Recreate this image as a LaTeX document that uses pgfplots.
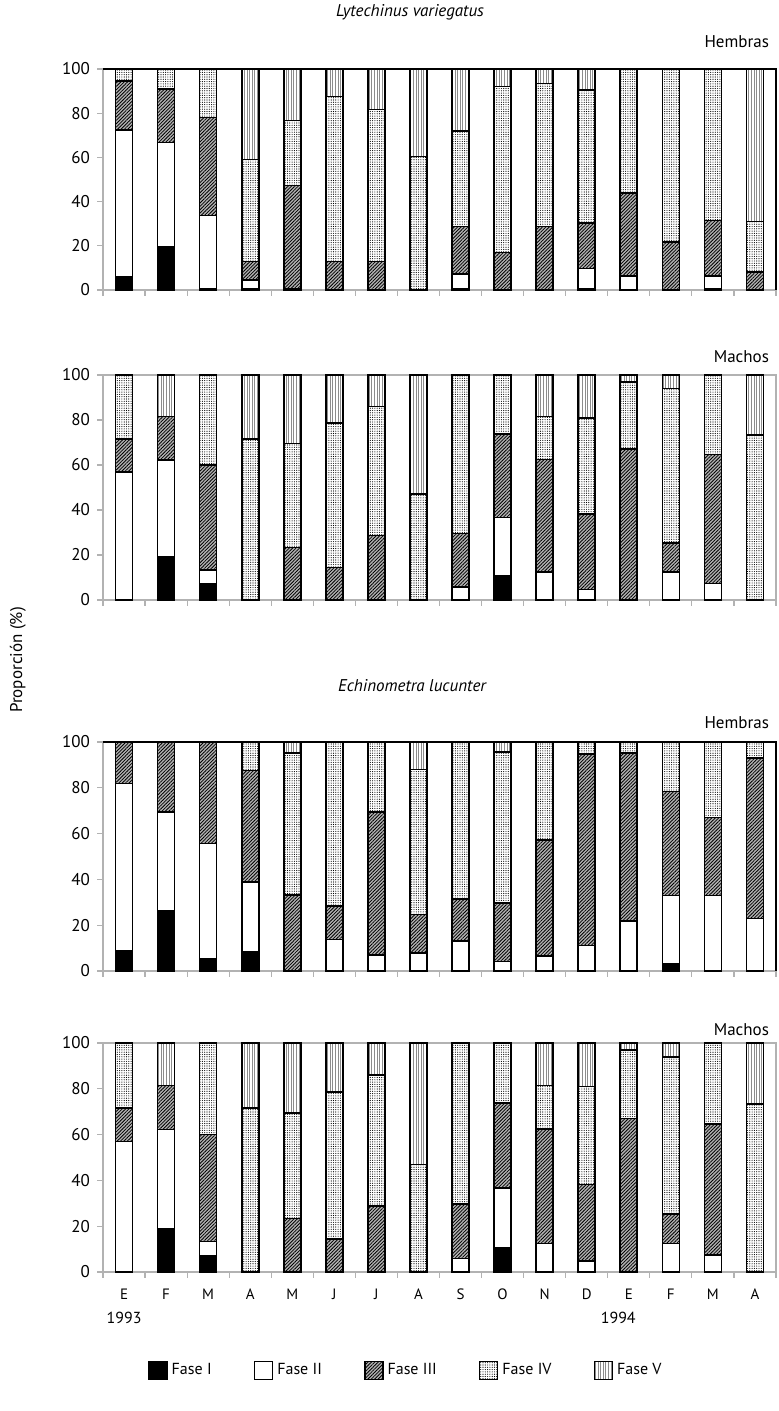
\documentclass[border=0pt]{standalone}
\usepackage{fontspec}
\setmainfont{PT Sans}
\usepackage{pgfplots}
\pgfplotsset{compat=1.18}
\usepackage{pgfplotstable}
\usetikzlibrary{patterns,patterns.meta}

% Lytechinus variegatus - Hembras
\pgfplotstableread{
x I II III IV V
1 6 66.5 22 5.5 0
2 19.6 47.2 24.2 9 0
3 0.5 33.2 44.3 22 0
4 0.5 4 8.3 46.2 41
5 0.5 0 46.8 29.4 23.3
6 0.3 0 12.5 74.8 12.4
7 0.3 0 12.5 68.8 18.4
8 0 0 0 60.4 39.6
9 0.5 6.8 21.4 43.2 28.1
10 0.3 0 16.7 75 8
11 0.3 0 28.4 64.8 6.5
12 0.5 9.3 20.4 60.3 9.5
13 0 6.3 37.7 56 0
14 0.3 0 21.3 78.4 0
15 0.5 5.8 25.2 68.5 0
16 0.3 0 7.7 23 69
}\tabLH

% Lytechinus variegatus - Machos
\pgfplotstableread{
x I II III IV V
1 0 57 14.6 28.4 0
2 19 43.2 19.3 0 18.5
3 7.1 6.2 46.7 40 0
4 0 0 0 71.6 28.4
5 0 0 23.3 46.2 30.5
6 0 0 14.5 64.2 21.3
7 0 0 28.7 57.3 14
8 0 0 0 47 53
9 0 5.9 23.7 70.4 0
10 10.7 25.9 37.2 26.2 0
11 0 12.4 50.1 19 18.5
12 0 4.7 33.5 42.8 19
13 0 0 67 30 3
14 0 12.4 12.8 68.8 6
15 0 7.4 57.2 35.4 0
16 0 0 0 73.3 26.7
}\tabLM

% Echinometra lucunter - Hembras
\pgfplotstableread{
x I II III IV V
1 8.9 72.9 18.2 0 0
2 26.2 43.3 30.5 0 0
3 5.4 50.3 44.3 0 0
4 8.5 30.4 48.7 12.4 0
5 0 0 33.1 62.1 4.8
6 0 13.7 14.7 71.6 0
7 0 7 62.5 30.5 0
8 0 7.9 16.7 63.4 12
9 0 13 18.5 68.5 0
10 0 4.1 25.5 66 4.4
11 0 6.6 50.5 42.9 0
12 0 11.1 83.7 5.2 0
13 0 21.9 73.3 4.8 0
14 3.1 29.8 45.4 21.7 0
15 0 32.9 34.1 33 0
16 0 22.9 70.1 7 0
}\tabEH

% Echinometra lucunter - Machos
\pgfplotstableread{
x I II III IV V
1 0 57 14.6 28.4 0
2 19 43.2 19.3 0 18.5
3 7.1 6.2 46.7 40 0
4 0 0 0 71.6 28.4
5 0 0 23.3 46.2 30.5
6 0 0 14.5 64.2 21.3
7 0 0 28.7 57.3 14
8 0 0 0 47 53
9 0 5.9 23.7 70.4 0
10 10.7 25.9 37.2 26.2 0
11 0 12.4 50.1 19 18.5
12 0 4.7 33.5 42.8 19
13 0 0 67 30 3
14 0 12.4 12.8 68.8 6
15 0 7.4 57.2 35.4 0
16 0 0 0 73.3 26.7
}\tabEM

\pgfplotsset{
  fI/.style={fill=black, draw=black, line width=0.8pt},
  fII/.style={fill=white, draw=black, line width=0.8pt},
  fIII/.style={fill=gray!60, draw=black, line width=0.8pt,
     postaction={pattern color=black, pattern={Lines[angle=45,distance=1.2pt,line width=0.4pt]}}},
  fIV/.style={fill=white, draw=black, line width=0.8pt,
     postaction={pattern color=black, pattern={Dots[radius=0.28pt,distance=1.15pt]}}},
  fV/.style={fill=white, draw=black, line width=0.8pt,
     postaction={pattern color=gray!90, pattern={Lines[angle=90,distance=1.3pt,line width=0.35pt]}}},
  panel/.style={
    scale only axis, width=336.5pt, height=#1,
    xmin=0.5, xmax=16.5, ymin=0, ymax=100,
    ybar stacked, bar width=8.5pt,
    ytick={0,20,40,60,80,100},
    xtick={0.5,1.5,...,16.5}, xticklabels={},
    tick align=outside, xtick pos=left, ytick pos=left,
    major tick length=3pt,
    axis line style={gray!60, line width=0.8pt},
    tick style={gray!60, line width=0.6pt},
    ticklabel style={font=\fontsize{8.5}{10}\selectfont},
    /pgf/number format/assume math mode=true,
    clip=false,
  },
}

\begin{document}
\begin{tikzpicture}
\path[use as bounding box] (0,0) rectangle (389.5pt,705.5pt);

\node[font=\fontsize{8.5}{10}\selectfont\itshape] at (205pt,699.5pt) {Lytechinus variegatus};
\node[font=\fontsize{8.5}{10}\selectfont\itshape] at (206pt,362.5pt) {Echinometra lucunter};
\node[font=\fontsize{8.5}{10}\selectfont, rotate=90] at (9pt,375.5pt) {Proporción (\%)};

% Panel 1
\begin{axis}[panel=110.5pt, at={(51.5pt,560.5pt)}, anchor=south west]
\addplot[fI] table[x=x,y=I]{\tabLH};
\addplot[fII] table[x=x,y=II]{\tabLH};
\addplot[fIII] table[x=x,y=III]{\tabLH};
\addplot[fIV] table[x=x,y=IV]{\tabLH};
\addplot[fV] table[x=x,y=V]{\tabLH};
\draw[black,line width=1pt] (rel axis cs:0,1)--(rel axis cs:1,1)--(rel axis cs:1,0);
\node[anchor=base east, font=\fontsize{8.5}{10}\selectfont] at (rel axis cs:1,1) [yshift=10.5pt] {Hembras};
\end{axis}

% Panel 2
\begin{axis}[panel=112.5pt, at={(51.5pt,405.5pt)}, anchor=south west]
\addplot[fI] table[x=x,y=I]{\tabLM};
\addplot[fII] table[x=x,y=II]{\tabLM};
\addplot[fIII] table[x=x,y=III]{\tabLM};
\addplot[fIV] table[x=x,y=IV]{\tabLM};
\addplot[fV] table[x=x,y=V]{\tabLM};
\node[anchor=base east, font=\fontsize{8.5}{10}\selectfont] at (rel axis cs:1,1) [yshift=6pt] {Machos};
\end{axis}

% Panel 3
\begin{axis}[panel=114.5pt, at={(51.5pt,220pt)}, anchor=south west]
\addplot[fI] table[x=x,y=I]{\tabEH};
\addplot[fII] table[x=x,y=II]{\tabEH};
\addplot[fIII] table[x=x,y=III]{\tabEH};
\addplot[fIV] table[x=x,y=IV]{\tabEH};
\addplot[fV] table[x=x,y=V]{\tabEH};
\draw[black,line width=1pt] (rel axis cs:0,1)--(rel axis cs:1,1)--(rel axis cs:1,0);
\node[anchor=base east, font=\fontsize{8.5}{10}\selectfont] at (rel axis cs:1,1) [yshift=6.5pt] {Hembras};
\end{axis}

% Panel 4
\begin{axis}[panel=114.5pt, at={(51.5pt,69.5pt)}, anchor=south west,
  extra x ticks={1,2,...,16},
  extra x tick labels={E,F,M,A,M,J,J,A,S,O,N,D,E,F,M,A},
  extra x tick style={major tick length=0pt, xticklabel style={font=\fontsize{7.5}{9}\selectfont, yshift=-5pt}},
  legend columns=5,
  legend style={draw=none, at={(0.067,-0.43)}, anchor=west, inner sep=0pt, outer sep=0pt,
     font=\fontsize{8}{10}\selectfont,
     /tikz/every even column/.append style={column sep=19pt}},
  legend image code/.code={\draw[#1] (0pt,-4.5pt) rectangle (9pt,4.5pt);},
]
\addplot[fI] table[x=x,y=I]{\tabEM};
\addplot[fII] table[x=x,y=II]{\tabEM};
\addplot[fIII] table[x=x,y=III]{\tabEM};
\addplot[fIV] table[x=x,y=IV]{\tabEM};
\addplot[fV] table[x=x,y=V]{\tabEM};
\legend{Fase I, Fase II, Fase III, Fase IV, Fase V}
\node[anchor=base east, font=\fontsize{8.5}{10}\selectfont] at (rel axis cs:1,1) [yshift=3.5pt] {Machos};
\node[font=\fontsize{8}{10}\selectfont] at (axis cs:1,0) [yshift=-23pt] {1993};
\node[font=\fontsize{8}{10}\selectfont] at (axis cs:12.75,0) [yshift=-23pt] {1994};
\end{axis}
\end{tikzpicture}
\end{document}
